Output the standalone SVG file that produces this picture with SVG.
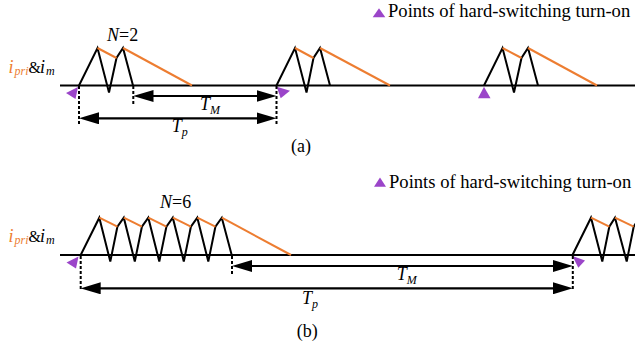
<svg xmlns="http://www.w3.org/2000/svg" width="635" height="351" viewBox="0 0 635 351">
<style>
.bg{fill:#ffffff}
.wave{fill:none;stroke:#000;stroke-width:2;stroke-linejoin:miter}
.org{fill:none;stroke:#ED7D31;stroke-width:2}
.axis{fill:none;stroke:#000;stroke-width:2}
.dash{fill:none;stroke:#000;stroke-width:2;stroke-dasharray:3 2}
.arr{fill:none;stroke:#000;stroke-width:2.2;marker-start:url(#ah);marker-end:url(#ah)}
.hs{fill:#9B45C9}
text{font-family:'Liberation Serif','DejaVu Serif',serif;fill:#000}
.it{font-style:italic}
.o{fill:#ED7D31}
</style>
<defs>
<marker id="ah" viewBox="0 0 20 12" refX="5" refY="6" markerWidth="20" markerHeight="12" markerUnits="userSpaceOnUse" orient="auto-start-reverse">
<path d="M0,0 L20,6 L0,12 Z" fill="#000"/>
</marker>
</defs>
<rect class="bg" x="0" y="0" width="635" height="351"/>

<g font-family="Liberation Serif, serif">
<!-- Panel (a) -->
<g id="legend-a">
<polygon class="hs" points="372.7,17.3 379,8.3 385.3,17.3"/>
<text x="388" y="17.3" font-size="18.6">Points of hard-switching turn-on</text>
</g>
<g id="label-a">
<text x="8.5" y="72.7" font-size="18"><tspan class="it o">i</tspan><tspan class="it o" font-size="12" x="14.5" y="75">pri</tspan><tspan x="28.5" y="72.7" font-size="16">&amp;</tspan><tspan class="it" x="40" y="72.7">i</tspan><tspan class="it" font-size="12" x="46" y="75">m</tspan></text>
</g>
<g id="axis-a"><line class="axis" x1="60" y1="85.5" x2="635" y2="85.5"/></g>
<g id="pulse-a1">
<polyline class="wave" points="79,85.5 97.5,48 109,92.5 116.5,58 123,48 133,85.5"/>
<line class="org" x1="97.5" y1="48" x2="116.5" y2="58"/>
<line class="org" x1="123" y1="48" x2="192" y2="85.5"/>
</g>
<g id="pulse-a2">
<polyline class="wave" points="276.5,85.5 295,48 306.5,92.5 313.5,58 320,48 330,85.5"/>
<line class="org" x1="295" y1="48" x2="313.5" y2="58"/>
<line class="org" x1="320" y1="48" x2="390" y2="85.5"/>
</g>
<g id="pulse-a3">
<polyline class="wave" points="484,85.5 502.5,48 514,92.5 521.5,58 528,48 538,85.5"/>
<line class="org" x1="502.5" y1="48" x2="521.5" y2="58"/>
<line class="org" x1="528" y1="48" x2="597" y2="85.5"/>
</g>
<g id="hs-a">
<polygon class="hs" points="66,93 78,87 75.5,99"/>
<polygon class="hs" points="276.7,86.7 290,90.7 280.7,98.3"/>
<polygon class="hs" points="478,98.3 484,86.7 490.5,98.3"/>
</g>
<text x="107" y="41" font-size="18"><tspan class="it">N</tspan>=2</text>
<text class="it" x="200" y="110" font-size="18">T<tspan font-size="12" y="113.5">M</tspan></text>
<text class="it" x="171.7" y="132" font-size="18">T<tspan font-size="12" y="135.5">p</tspan></text>
<text x="291" y="152" font-size="18">(a)</text>

<!-- Panel (b) -->
<g id="legend-b">
<polygon class="hs" points="374,186.7 380,177.5 386,186.7"/>
<text x="389" y="187.5" font-size="18.6">Points of hard-switching turn-on</text>
</g>
<g id="label-b">
<text x="8.5" y="241.7" font-size="18"><tspan class="it o">i</tspan><tspan class="it o" font-size="12" x="14.5" y="244">pri</tspan><tspan x="28.5" y="241.7" font-size="16">&amp;</tspan><tspan class="it" x="40" y="241.7">i</tspan><tspan class="it" font-size="12" x="46" y="244">m</tspan></text>
</g>
<g id="axis-b"><line class="axis" x1="60" y1="255" x2="635" y2="255"/></g>
<g id="pulse-b1">
<polyline class="wave" points="80.7,255 99.3,217.7 110.3,261.5 117.4,226.7 123.8,217.7 134.8,261.5 141.9,226.7 148.3,217.7 159.3,261.5 166.4,226.7 172.8,217.7 183.8,261.5 190.9,226.7 197.3,217.7 208.3,261.5 215.4,226.7 221.8,217.7 231.7,255"/>
<line class="org" x1="99.3" y1="217.7" x2="117.4" y2="226.7"/>
<line class="org" x1="123.8" y1="217.7" x2="141.9" y2="226.7"/>
<line class="org" x1="148.3" y1="217.7" x2="166.4" y2="226.7"/>
<line class="org" x1="172.8" y1="217.7" x2="190.9" y2="226.7"/>
<line class="org" x1="197.3" y1="217.7" x2="215.4" y2="226.7"/>
<line class="org" x1="221.8" y1="217.7" x2="291" y2="255"/>
</g>
<g id="pulse-b2">
<polyline class="wave" points="572.5,255 591,217.7 602.3,261.5 609.3,226.7 615,217.7 626.7,261.5 633.7,226.7 639.5,217.7"/>
<line class="org" x1="591" y1="217.7" x2="609.3" y2="226.7"/>
<line class="org" x1="615" y1="217.7" x2="633.7" y2="226.7"/>
</g>
<g id="hs-b">
<polygon class="hs" points="66.5,262.5 78.5,256.5 76,268.5"/>
<polygon class="hs" points="572.5,256 585,260.5 578.3,267.7"/>
</g>
<text x="160" y="208" font-size="18"><tspan class="it">N</tspan>=6</text>
<text class="it" x="396.7" y="280" font-size="18">T<tspan font-size="12" y="283.5">M</tspan></text>
<text class="it" x="302" y="304" font-size="18">T<tspan font-size="12" y="307.5">p</tspan></text>
<text x="296.7" y="337" font-size="18">(b)</text>
</g>

<!-- Connectors -->
<g id="connectors">
<line class="dash" x1="79" y1="86" x2="79" y2="125"/>
<line class="dash" x1="133.3" y1="86" x2="133.3" y2="105"/>
<line class="dash" x1="276.5" y1="86" x2="276.5" y2="125"/>
<line class="arr" x1="148.5" y1="96" x2="261.5" y2="96"/>
<line class="arr" x1="94" y1="118.3" x2="261.5" y2="118.3"/>
<line class="dash" x1="80.7" y1="256" x2="80.7" y2="291"/>
<line class="dash" x1="232" y1="256" x2="232" y2="275"/>
<line class="dash" x1="572.8" y1="256" x2="572.8" y2="291"/>
<line class="arr" x1="247" y1="266" x2="557.8" y2="266"/>
<line class="arr" x1="95.7" y1="288.3" x2="557.8" y2="288.3"/>
</g>
</svg>
